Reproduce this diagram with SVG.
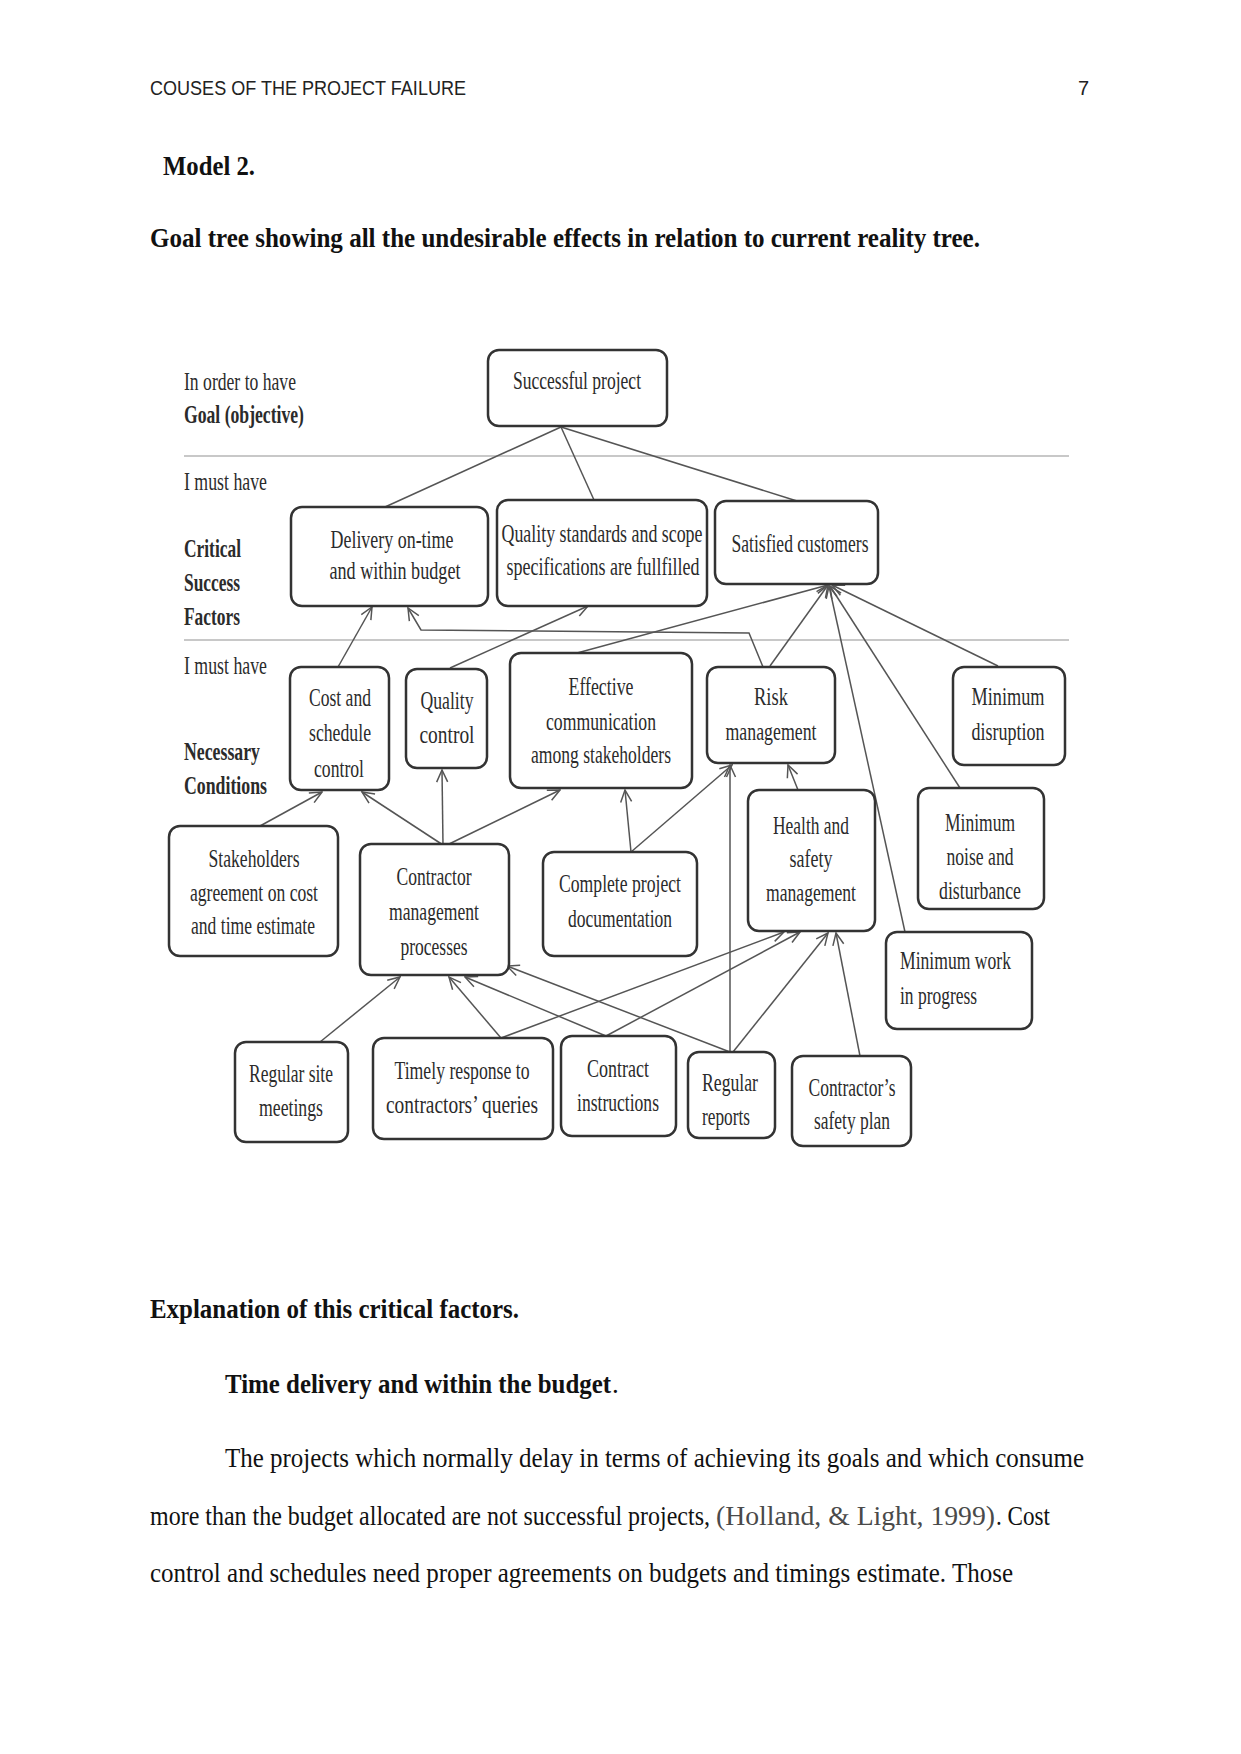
<svg xmlns="http://www.w3.org/2000/svg" width="1241" height="1754" viewBox="0 0 1241 1754">
<style>
.page{font-family:"Liberation Serif","Times New Roman",serif;font-size:27px;fill:#111}
.b{font-weight:bold}
.nb{font-weight:normal}
.hdr{font-family:"Liberation Sans",Arial,sans-serif;font-size:20px;fill:#222}
.nt{font-family:"Liberation Serif","Times New Roman",serif;font-size:26px;fill:#2b2b2b;text-anchor:middle}
.lt{font-family:"Liberation Serif","Times New Roman",serif;font-size:26px;fill:#2b2b2b}
.ls{text-anchor:start}
.le{text-anchor:end}
.box{fill:#fff;stroke:#333;stroke-width:2.5}
.div{stroke:#c8c8c8;stroke-width:2}
.conn line,.conn polyline{stroke:#555;stroke-width:1.5;fill:none}
.cite{fill:#4a4a4a}
</style>
<defs>
<marker id="ah" viewBox="0 0 14 14" refX="13" refY="7" markerWidth="14" markerHeight="14" markerUnits="userSpaceOnUse" orient="auto">
<path d="M1,1.5 L13,7 L1,12.5" fill="none" stroke="#555" stroke-width="1.5"/>
</marker>
</defs>
<rect width="1241" height="1754" fill="#fff"/>

<!-- page header and headings -->
<text class="hdr" x="150" y="95" textLength="316" lengthAdjust="spacingAndGlyphs">COUSES OF THE PROJECT FAILURE</text>
<text class="hdr" x="1089" y="95" text-anchor="end">7</text>
<text class="page b" x="163" y="175" textLength="92" lengthAdjust="spacingAndGlyphs">Model 2.</text>
<text class="page b" x="150" y="247" textLength="830" lengthAdjust="spacingAndGlyphs">Goal tree showing all the undesirable effects in relation to current reality tree.</text>

<!-- level labels -->
<g id="labels">
<text class="lt" x="184" y="390" textLength="112" lengthAdjust="spacingAndGlyphs">In order to have</text>
<text class="lt b" x="184" y="423" textLength="120" lengthAdjust="spacingAndGlyphs">Goal (objective)</text>
<text class="lt" x="184" y="490" textLength="83" lengthAdjust="spacingAndGlyphs">I must have</text>
<text class="lt b" x="184" y="557" textLength="57" lengthAdjust="spacingAndGlyphs">Critical</text>
<text class="lt b" x="184" y="591" textLength="56" lengthAdjust="spacingAndGlyphs">Success</text>
<text class="lt b" x="184" y="625" textLength="56" lengthAdjust="spacingAndGlyphs">Factors</text>
<text class="lt" x="184" y="674" textLength="83" lengthAdjust="spacingAndGlyphs">I must have</text>
<text class="lt b" x="184" y="760" textLength="76" lengthAdjust="spacingAndGlyphs">Necessary</text>
<text class="lt b" x="184" y="794" textLength="83" lengthAdjust="spacingAndGlyphs">Conditions</text>
<line class="div" x1="184" y1="456" x2="1069" y2="456"/>
<line class="div" x1="184" y1="640" x2="1069" y2="640"/>
</g>

<!-- connectors -->
<g id="connectors" class="conn">
<line x1="561" y1="427" x2="385" y2="507"/>
<line x1="561" y1="427" x2="594" y2="500"/>
<line x1="561" y1="427" x2="797" y2="501"/>
<line x1="338" y1="667" x2="372" y2="607" marker-end="url(#ah)"/>
<polyline points="763,667 749,633 421,630 408,608" marker-end="url(#ah)"/>
<line x1="450" y1="668" x2="588" y2="606" marker-end="url(#ah)"/>
<line x1="577" y1="653" x2="828" y2="585" marker-end="url(#ah)"/>
<line x1="770" y1="666" x2="828" y2="585" marker-end="url(#ah)"/>
<line x1="998" y1="666" x2="832" y2="585" marker-end="url(#ah)"/>
<line x1="960" y1="788" x2="830" y2="586" marker-end="url(#ah)"/>
<line x1="905" y1="932" x2="829" y2="586" marker-end="url(#ah)"/>
<line x1="260" y1="826" x2="322" y2="792" marker-end="url(#ah)"/>
<line x1="443" y1="845" x2="362" y2="792" marker-end="url(#ah)"/>
<line x1="443" y1="845" x2="442" y2="770" marker-end="url(#ah)"/>
<line x1="447" y1="845" x2="560" y2="790" marker-end="url(#ah)"/>
<line x1="631" y1="852" x2="625" y2="790" marker-end="url(#ah)"/>
<line x1="631" y1="852" x2="732" y2="765" marker-end="url(#ah)"/>
<line x1="798" y1="790" x2="788" y2="765" marker-end="url(#ah)"/>
<line x1="730" y1="1052" x2="730" y2="765" marker-end="url(#ah)"/>
<line x1="320" y1="1042" x2="400" y2="977" marker-end="url(#ah)"/>
<line x1="501" y1="1038" x2="449" y2="977" marker-end="url(#ah)"/>
<line x1="501" y1="1038" x2="784" y2="932" marker-end="url(#ah)"/>
<line x1="606" y1="1036" x2="465" y2="977" marker-end="url(#ah)"/>
<line x1="606" y1="1036" x2="800" y2="932" marker-end="url(#ah)"/>
<line x1="730" y1="1052" x2="507" y2="966" marker-end="url(#ah)"/>
<line x1="733" y1="1052" x2="828" y2="933" marker-end="url(#ah)"/>
<line x1="860" y1="1056" x2="836" y2="933" marker-end="url(#ah)"/>
</g>

<!-- nodes -->
<g id="n-successful-project"><rect class="box" x="488" y="350" width="179" height="76" rx="11"/>
<text class="nt" x="577" y="389" textLength="128" lengthAdjust="spacingAndGlyphs">Successful project</text></g>

<g id="n-delivery"><rect class="box" x="291" y="507" width="197" height="99" rx="11"/>
<text class="nt" x="392" y="548" textLength="123" lengthAdjust="spacingAndGlyphs">Delivery on-time</text>
<text class="nt" x="395" y="579" textLength="131" lengthAdjust="spacingAndGlyphs">and within  budget</text></g>

<g id="n-quality-standards"><rect class="box" x="497" y="500" width="210" height="106" rx="11"/>
<text class="nt" x="602" y="542" textLength="201" lengthAdjust="spacingAndGlyphs">Quality standards and scope</text>
<text class="nt" x="603" y="575" textLength="193" lengthAdjust="spacingAndGlyphs">specifications are fullfilled</text></g>

<g id="n-satisfied"><rect class="box" x="715" y="501" width="163" height="83" rx="11"/>
<text class="nt" x="800" y="552" textLength="137" lengthAdjust="spacingAndGlyphs">Satisfied customers</text></g>

<g id="n-cost-schedule"><rect class="box" x="290" y="667" width="99" height="123" rx="11"/>
<text class="nt" x="340" y="706" textLength="62" lengthAdjust="spacingAndGlyphs">Cost and</text>
<text class="nt" x="340" y="741" textLength="62" lengthAdjust="spacingAndGlyphs">schedule</text>
<text class="nt" x="339" y="777" textLength="50" lengthAdjust="spacingAndGlyphs">control</text></g>

<g id="n-quality-control"><rect class="box" x="406" y="669" width="81" height="99" rx="11"/>
<text class="nt" x="447" y="709" textLength="53" lengthAdjust="spacingAndGlyphs">Quality</text>
<text class="nt" x="447" y="743" textLength="55" lengthAdjust="spacingAndGlyphs">control</text></g>

<g id="n-effective-comm"><rect class="box" x="510" y="653" width="182" height="135" rx="11"/>
<text class="nt" x="601" y="695" textLength="65" lengthAdjust="spacingAndGlyphs">Effective</text>
<text class="nt" x="601" y="730" textLength="110" lengthAdjust="spacingAndGlyphs">communication</text>
<text class="nt" x="601" y="763" textLength="140" lengthAdjust="spacingAndGlyphs">among stakeholders</text></g>

<g id="n-risk"><rect class="box" x="707" y="667" width="128" height="96" rx="11"/>
<text class="nt" x="771" y="705" textLength="34" lengthAdjust="spacingAndGlyphs">Risk</text>
<text class="nt" x="771" y="740" textLength="91" lengthAdjust="spacingAndGlyphs">management</text></g>

<g id="n-min-disruption"><rect class="box" x="953" y="667" width="112" height="98" rx="11"/>
<text class="nt" x="1008" y="705" textLength="73" lengthAdjust="spacingAndGlyphs">Minimum</text>
<text class="nt" x="1008" y="740" textLength="73" lengthAdjust="spacingAndGlyphs">disruption</text></g>

<g id="n-stakeholders"><rect class="box" x="169" y="826" width="169" height="130" rx="11"/>
<text class="nt" x="254" y="867" textLength="91" lengthAdjust="spacingAndGlyphs">Stakeholders</text>
<text class="nt" x="254" y="901" textLength="128" lengthAdjust="spacingAndGlyphs">agreement on cost</text>
<text class="nt" x="253" y="934" textLength="124" lengthAdjust="spacingAndGlyphs">and time estimate</text></g>

<g id="n-contractor-mgmt"><rect class="box" x="360" y="844" width="149" height="131" rx="11"/>
<text class="nt" x="434" y="885" textLength="75" lengthAdjust="spacingAndGlyphs">Contractor</text>
<text class="nt" x="434" y="920" textLength="90" lengthAdjust="spacingAndGlyphs">management</text>
<text class="nt" x="434" y="955" textLength="67" lengthAdjust="spacingAndGlyphs">processes</text></g>

<g id="n-complete-doc"><rect class="box" x="543" y="852" width="154" height="104" rx="11"/>
<text class="nt" x="620" y="892" textLength="122" lengthAdjust="spacingAndGlyphs">Complete project</text>
<text class="nt" x="620" y="927" textLength="104" lengthAdjust="spacingAndGlyphs">documentation</text></g>

<g id="n-health-safety"><rect class="box" x="748" y="790" width="127" height="141" rx="11"/>
<text class="nt" x="811" y="834" textLength="76" lengthAdjust="spacingAndGlyphs">Health and</text>
<text class="nt" x="811" y="867" textLength="43" lengthAdjust="spacingAndGlyphs">safety</text>
<text class="nt" x="811" y="901" textLength="90" lengthAdjust="spacingAndGlyphs">management</text></g>

<g id="n-min-noise"><rect class="box" x="918" y="788" width="126" height="121" rx="11"/>
<text class="nt" x="980" y="831" textLength="70" lengthAdjust="spacingAndGlyphs">Minimum</text>
<text class="nt" x="980" y="865" textLength="67" lengthAdjust="spacingAndGlyphs">noise and</text>
<text class="nt" x="980" y="899" textLength="82" lengthAdjust="spacingAndGlyphs">disturbance</text></g>

<g id="n-min-wip"><rect class="box" x="886" y="932" width="146" height="97" rx="11"/>
<text class="nt ls" x="900" y="969" textLength="111" lengthAdjust="spacingAndGlyphs">Minimum work</text>
<text class="nt ls" x="900" y="1004" textLength="77" lengthAdjust="spacingAndGlyphs">in progress</text></g>

<g id="n-site-meetings"><rect class="box" x="235" y="1042" width="113" height="100" rx="11"/>
<text class="nt" x="291" y="1082" textLength="84" lengthAdjust="spacingAndGlyphs">Regular site</text>
<text class="nt" x="291" y="1116" textLength="64" lengthAdjust="spacingAndGlyphs">meetings</text></g>

<g id="n-timely-response"><rect class="box" x="373" y="1038" width="180" height="101" rx="11"/>
<text class="nt" x="462" y="1079" textLength="135" lengthAdjust="spacingAndGlyphs">Timely response to</text>
<text class="nt" x="462" y="1113" textLength="152" lengthAdjust="spacingAndGlyphs">contractors’ queries</text></g>

<g id="n-contract-instructions"><rect class="box" x="561" y="1036" width="115" height="100" rx="11"/>
<text class="nt" x="618" y="1077" textLength="62" lengthAdjust="spacingAndGlyphs">Contract</text>
<text class="nt" x="618" y="1111" textLength="82" lengthAdjust="spacingAndGlyphs">instructions</text></g>

<g id="n-regular-reports"><rect class="box" x="688" y="1052" width="87" height="86" rx="11"/>
<text class="nt ls" x="702" y="1091" textLength="56" lengthAdjust="spacingAndGlyphs">Regular</text>
<text class="nt ls" x="702" y="1125" textLength="48" lengthAdjust="spacingAndGlyphs">reports</text></g>

<g id="n-safety-plan"><rect class="box" x="792" y="1056" width="119" height="90" rx="11"/>
<text class="nt" x="852" y="1096" textLength="87" lengthAdjust="spacingAndGlyphs">Contractor’s</text>
<text class="nt" x="852" y="1129" textLength="76" lengthAdjust="spacingAndGlyphs">safety plan</text></g>

<!-- body text -->
<text class="page b" x="150" y="1318" textLength="369" lengthAdjust="spacingAndGlyphs">Explanation of this critical factors.</text>
<text class="page b" x="225" y="1393" textLength="386" lengthAdjust="spacingAndGlyphs">Time delivery and within the budget</text>
<text class="page" x="612" y="1393">.</text>
<text class="page" x="225" y="1467" textLength="859" lengthAdjust="spacingAndGlyphs">The projects which normally delay in terms of achieving its goals and which consume</text>
<text class="page" x="150" y="1525" textLength="560" lengthAdjust="spacingAndGlyphs">more than the budget allocated are not successful projects,</text>
<text class="page cite" x="716" y="1525" textLength="279" lengthAdjust="spacingAndGlyphs">(Holland, &amp; Light, 1999)</text>
<text class="page" x="996" y="1525" textLength="54" lengthAdjust="spacingAndGlyphs">. Cost</text>
<text class="page" x="150" y="1582" textLength="863" lengthAdjust="spacingAndGlyphs">control and schedules need proper agreements on budgets and timings estimate. Those</text>
</svg>
